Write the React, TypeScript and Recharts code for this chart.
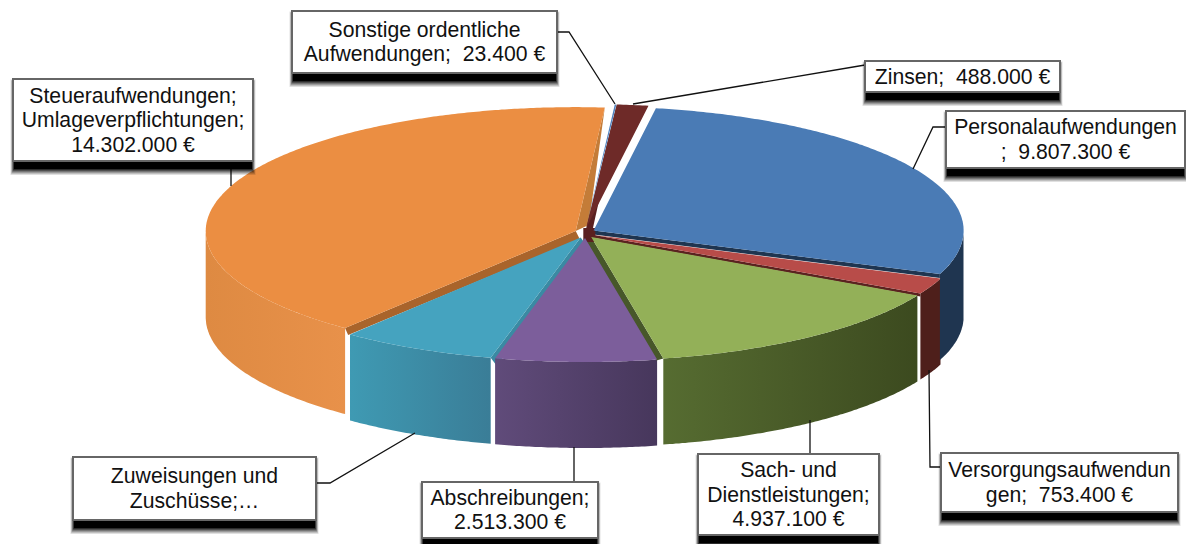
import React from "react";
import { PieChart, Pie } from "recharts";

const W = 1186, H = 544;
const categories = ["Steueraufwendungen", "Zuweisungen und Zuschüsse", "Abschreibungen", "Sach- und Dienstleistungen", "Versorgungsaufwendungen", "Personalaufwendungen", "Zinsen", "Sonstige ordentliche Aufwendungen"];
const values = [14302000, 2650000, 2513300, 4937100, 753400, 9807300, 488000, 23400];
const labelLines = [
  ["Steueraufwendungen;", "Umlageverpflichtungen;", "14.302.000 €"],
  ["Zuweisungen und", "Zuschüsse;…"],
  ["Abschreibungen;", "2.513.300 €"],
  ["Sach- und", "Dienstleistungen;", "4.937.100 €"],
  ["Versorgungsaufwendun", "gen;  753.400 €"],
  ["Personalaufwendungen", ";  9.807.300 €"],
  ["Zinsen;  488.000 €"],
  ["Sonstige ordentliche", "Aufwendungen;  23.400 €"],
];
const topColors = ["#EB8E42", "#45A3BF", "#7C5E9B", "#93B058", "#B84C49", "#4A7BB5", "#6E2A28", "#4F81BD"];
const wallFrom = ["#DE8A42", "#3F9AB3", "#604B7A", "#566C31", "#4E1F1B", "#1F3550", "#5A2020", "#1F3550"];
const wallTo = ["#E8914A", "#3A7D97", "#47375C", "#3C4A1F", "#4E1F1B", "#1F3550", "#5A2020", "#1F3550"];
const cutColors = ["#A9642B", "#3A8AA3", "#4A3A60", "#47572A", "#5A2220", "#1F3550", "#5A2020", "#1F3550"];
const bandColor = "#C47C38";

const boxes = [
  [13, 79, 240, 82], [73, 457, 243, 63], [422, 482, 176, 56], [698, 454, 181, 81],
  [941, 453, 237, 59], [946, 111, 239, 57], [865, 61, 195, 31], [292, 11, 265, 62],
];
const leaders = [
  [[231, 161], [231, 186]],
  [[316, 483], [330, 483], [415, 433]],
  [[574, 482], [574, 447]],
  [[810, 454], [810, 420]],
  [[941, 467], [930, 467], [929, 370]],
  [[946, 127], [933, 127], [913, 169]],
  [[865, 65], [633, 104]],
  [[557, 32], [569, 32], [615, 104]],
];
// per-slice cut faces: side of the slice, apex shift, rim shift
const cuts: any[][] = [
  [["start", [13, -6], [0, 0]], ["end", [4, 8], [3, 7]]],
  [["end", [6, 8], [6, 8]]],
  [],
  [["start", [-6, 3], [-7, 2]]],
  [["start", [0, 3], [0, 3]]],
  [["start", [0, 4], [0, 4]]],
  [["end", [6, 3], [0, 15]]],
  [],
];
// slight perspective shift of the projected angle (degrees)
const warpKnots = [[85.5, 0], [230.7, 0.8], [257.6, -1.6], [283, -1.8], [333, -1.3], [341, -1.4], [440, 0], [445.5, 0]];
const shadowSteps = [[5, 0.12], [4, 0.18], [3, 0.25], [2, 0.35], [1, 0.5], [0, 1]];

const RX = 370, RY = 124, DEPTH = 86, EXPLODE = 10;
const rad = (a: number) => (a * Math.PI) / 180;
function warp(t: number) {
  for (let i = 1; i < warpKnots.length; i++) {
    const [a, va] = warpKnots[i - 1], [b, vb] = warpKnots[i];
    if (t <= b) return va + ((vb - va) * (t - a)) / (b - a);
  }
  return 0;
}

function geometry(p: any) {
  const mid = (p.startAngle + p.endAngle) / 2;
  const ax = p.cx + EXPLODE * Math.cos(rad(mid));
  const ay = p.cy - EXPLODE * 0.5 * Math.sin(rad(mid));
  const k = RX / p.outerRadius;
  const pt = (t: number): [number, number] => {
    const u = t + warp(t);
    return [ax + p.outerRadius * k * Math.cos(rad(u)), ay - RY * Math.sin(rad(u))];
  };
  return { ax, ay, pt };
}
function arc(pt: (t: number) => [number, number], a: number, b: number) {
  const out: [number, number][] = [];
  const n = Math.max(2, Math.ceil(Math.abs(b - a) * 2));
  for (let i = 0; i <= n; i++) out.push(pt(a + ((b - a) * i) / n));
  return out;
}
const toPath = (pts: number[][]) => "M" + pts.map((q) => q[0].toFixed(1) + "," + q[1].toFixed(1)).join("L") + "Z";

function TopFace(p: any) {
  const { ax, ay, pt } = geometry(p);
  return <path d={toPath([[ax, ay], ...arc(pt, p.startAngle, p.endAngle)])} fill={topColors[p.index]} />;
}

function WallFace(p: any) {
  const { ax, ay, pt } = geometry(p);
  const i = p.index;
  const parts: React.ReactNode[] = [];
  cuts[i].forEach((c: any, j: number) => {
    const rim = pt(c[0] === "start" ? p.startAngle : p.endAngle);
    const pts = [[ax, ay], rim, [rim[0] + c[2][0], rim[1] + c[2][1]], [ax + c[1][0], ay + c[1][1]]];
    const fill = i === 0 && c[0] === "start" ? bandColor : cutColors[i];
    parts.push(<path key={"c" + j} d={toPath(pts)} fill={fill} />);
  });
  if (i === 6) {
    parts.push(<path key="hub" d={toPath([[ax - 3, ay], [ax + 9, ay], [ax + 9, ay + 14], [ax - 3, ay + 14]])} fill={cutColors[6]} />);
  }
  [[180, 360], [540, 720]].forEach(([lo, hi], j) => {
    const a = Math.max(lo, p.startAngle), b = Math.min(hi, p.endAngle);
    if (b <= a) return;
    const upper = arc(pt, a, b);
    const lower = upper.slice().reverse().map((q) => [q[0], q[1] + DEPTH]);
    parts.push(
      <g key={"w" + j}>
        <linearGradient id={"wall" + i + j} x1="0" y1="0" x2="1" y2="0">
          <stop offset="0" stopColor={wallFrom[i]} />
          <stop offset="1" stopColor={wallTo[i]} />
        </linearGradient>
        <path d={toPath([...upper, ...lower])} fill={`url(#wall${i}${j})`} />
      </g>
    );
  });
  return <g>{parts}</g>;
}

function BoxLabel(p: any) {
  const i = p.index;
  const [x, y, w, h] = boxes[i];
  const lines = labelLines[i];
  const lh = 24.5;
  const y0 = y + h / 2 - (lh * (lines.length - 1)) / 2 + 7;
  return (
    <g>
      <polyline points={leaders[i].map((q) => q.join(",")).join(" ")} fill="none" stroke="#111" strokeWidth={1.3} />
      {shadowSteps.map(([d, o]) => (
        <rect key={d} x={x + 1 - d * 0.7} y={y + 4 - d * 0.7} width={w - 2 + d * 1.4} height={h + 4 + d * 1.9} fill="#000" fillOpacity={o} />
      ))}
      <rect x={x} y={y} width={w} height={h} fill="#fff" stroke="#666" strokeWidth={2} />
      {lines.map((t, j) => (
        <text key={j} x={x + w / 2} y={y0 + j * lh} textAnchor="middle" fontFamily="'Liberation Sans', Arial, sans-serif" fontSize={21.2} fill="#111" style={{ whiteSpace: "pre" }}>
          {t}
        </text>
      ))}
    </g>
  );
}

const table = categories.map((name, i) => ({ name, value: values[i] }));

export default function App() {
  const common = { data: table, dataKey: "value", nameKey: "name", cx: 585, cy: 233, outerRadius: 200, startAngle: 85.5, endAngle: 445.5, paddingAngle: 0, isAnimationActive: false, stroke: "none" };
  return (
    <div style={{ position: "absolute", left: 0, top: 0, width: W, height: H, background: "#fff" }}>
      <PieChart width={W} height={H} margin={{ top: 0, right: 0, bottom: 0, left: 0 }}>
        <Pie {...common} shape={WallFace} label={false} labelLine={false} />
        <Pie {...common} shape={TopFace} label={BoxLabel} labelLine={false} />
      </PieChart>
    </div>
  );
}
